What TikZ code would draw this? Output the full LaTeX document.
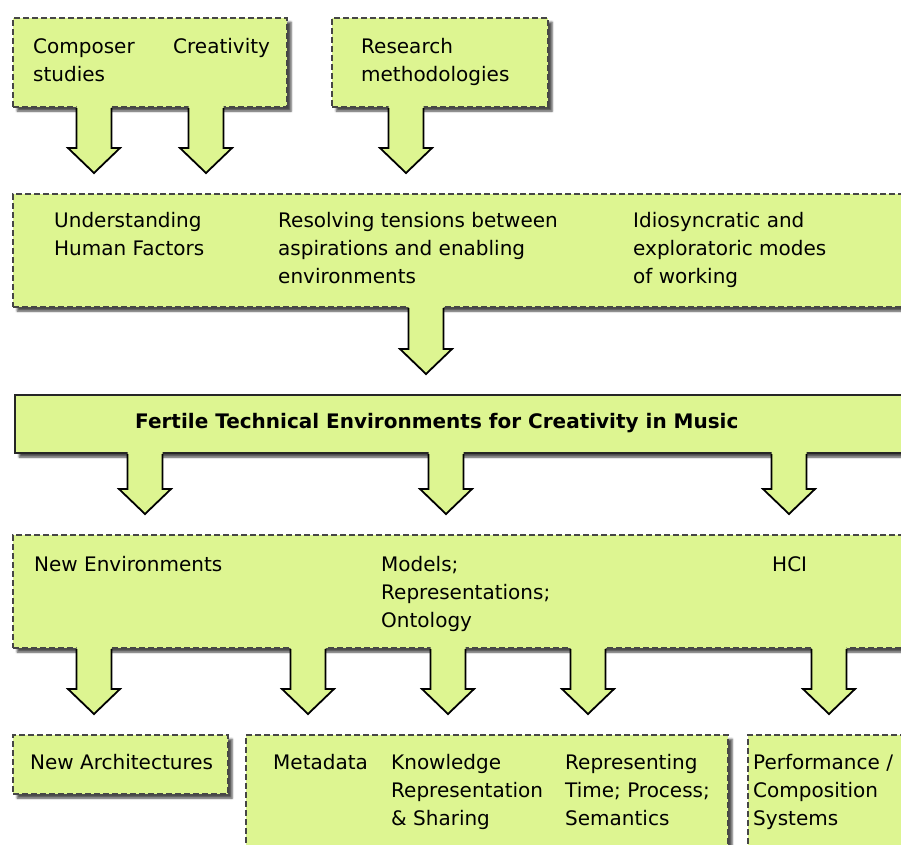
\documentclass[tikz,border=0pt]{standalone}
\usepackage{fontspec}
\setmainfont{DejaVu Sans}
\usetikzlibrary{calc}
\usetikzlibrary{shadows.blur}
\definecolor{mgreen}{RGB}{221, 245, 145}
\definecolor{mgrey}{RGB}{70, 70, 70}
\tikzset{panel/.style = {draw = mgrey, dash pattern = on 6pt off 3pt, line width = 2.2pt,
                         fill = mgreen, anchor = north west, inner sep = 0pt,
                         blur shadow = {shadow xshift = 4pt, shadow yshift = -4pt,
                                        shadow blur radius = 2pt, shadow opacity = 70}},
         solidpanel/.style = {panel, solid, draw = black!85},
         boxtext/.style = {anchor = north west, inner sep = 0pt, align = left,
                           font = \fontsize{20}{28}\selectfont},
         shaft/.style = {line width = 1.8pt, black, line join = miter}}
% block arrow at x = #1 from box #2 towards box #3
\newcommand{\flowarrow}[3]{%
  \coordinate (top) at (#1, 0 |- #2.south);
  \coordinate (tip) at (#1, 0 |- #3.north);
  \fill [mgreen] ($(top) + (-17.5, -4)$) -- ($(top) + (17.5, -4)$) -- ($(tip) + (17.5, -45)$)
    -- ($(tip) + (26, -45)$) -- ($(tip) + (0, -20)$) -- ($(tip) + (-26, -45)$)
    -- ($(tip) + (-17.5, -45)$) -- cycle;
  \draw [shaft] ($(top) + (17.5, 0)$) -- ($(tip) + (17.5, -45)$) -- ($(tip) + (26, -45)$)
    -- ($(tip) + (0, -20)$) -- ($(tip) + (-26, -45)$) -- ($(tip) + (-17.5, -45)$)
    -- ($(top) + (-17.5, 0)$);
}
\begin{document}
\begin{tikzpicture}[x = 1pt, y = -1pt]
    \useasboundingbox (0, 0) rectangle (901, 844);
    \clip (0, 0) rectangle (901, 844);

    \node [panel, minimum width = 274pt, minimum height = 89pt] (origins) at (12, 17) {};
    \node [panel, minimum width = 216pt, minimum height = 89pt] (research) at (331, 17) {};
    \node [panel, minimum width = 920pt, minimum height = 113pt] (themes) at (12, 193) {};
    \node [solidpanel, minimum width = 920pt, minimum height = 58pt] (fertile) at (14, 394) {};
    \node [panel, minimum width = 920pt, minimum height = 113pt] (areas) at (12, 534) {};
    \node [panel, minimum width = 215pt, minimum height = 59pt] (archbox) at (12, 734) {};
    \node [panel, minimum width = 482pt, minimum height = 140pt] (databox) at (245, 734) {};
    \node [panel, minimum width = 180pt, minimum height = 140pt] (perfbox) at (747, 734) {};

    \node [boxtext] (composer) at (33, 33.4) {\strut Composer\\studies};
    \node [boxtext] (creativity) at (173, 33.4) {\strut Creativity};
    \node [boxtext] (methods) at (361, 33.4) {\strut Research\\methodologies};

    \node [boxtext] (human) at (54, 207.4) {\strut Understanding\\Human Factors};
    \node [boxtext] (tensions) at (278, 207.4) {\strut Resolving tensions between\\aspirations and enabling\\environments};
    \node [boxtext] (modes) at (633, 207.4) {\strut Idiosyncratic and\\exploratoric modes\\of working};

    \node [boxtext, font = \fontsize{20}{28}\selectfont\bfseries] (title) at (135, 408.4)
      {\strut Fertile Technical Environments for Creativity in Music};

    \node [boxtext] (newenv) at (34, 551.4) {\strut New Environments};
    \node [boxtext] (models) at (381, 551.4) {\strut Models;\\Representations;\\Ontology};
    \node [boxtext] (hci) at (772, 551.4) {\strut HCI};

    \node [boxtext] (newarch) at (30, 749.4) {\strut New Architectures};
    \node [boxtext] (metadata) at (273, 749.4) {\strut Metadata};
    \node [boxtext] (knowledge) at (391, 749.4) {\strut Knowledge\\Representation\\\& Sharing};
    \node [boxtext] (timing) at (565, 749.4) {\strut Representing\\Time; Process;\\Semantics};
    \node [boxtext] (performance) at (753, 749.4) {\strut Performance /\\Composition\\Systems};

    \flowarrow{94}{origins}{themes}
    \flowarrow{206}{origins}{themes}
    \flowarrow{406}{research}{themes}
    \flowarrow{426}{themes}{fertile}
    \flowarrow{145}{fertile}{areas}
    \flowarrow{446}{fertile}{areas}
    \flowarrow{789}{fertile}{areas}
    \flowarrow{94}{areas}{archbox}
    \flowarrow{308}{areas}{databox}
    \flowarrow{448}{areas}{databox}
    \flowarrow{588}{areas}{databox}
    \flowarrow{829}{areas}{perfbox}
  \end{tikzpicture}
\end{document}
